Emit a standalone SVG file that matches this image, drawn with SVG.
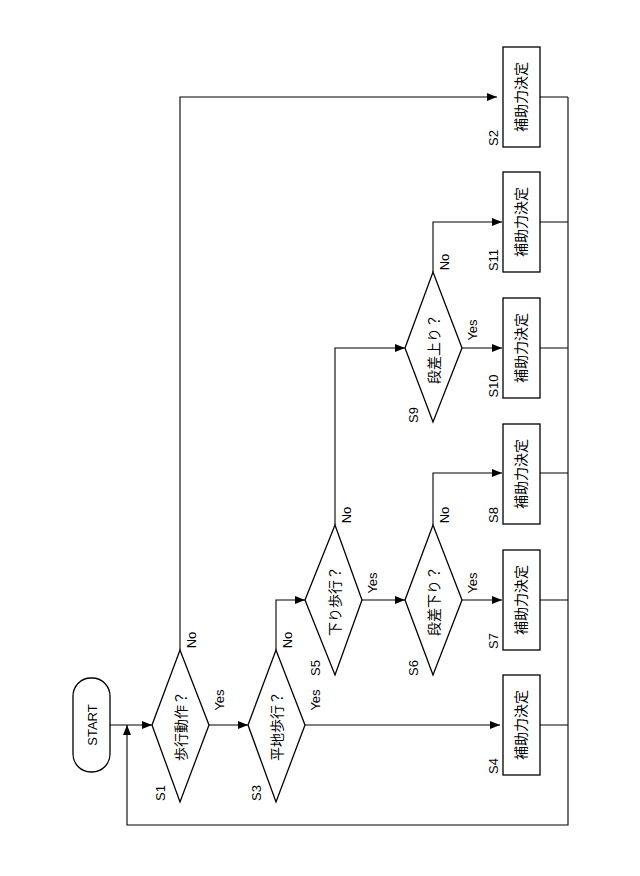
<svg xmlns="http://www.w3.org/2000/svg" width="640" height="876" viewBox="0 0 640 876">
<style>
.s{fill:#fff;stroke:#000;stroke-width:1.3}
.l{fill:none;stroke:#000;stroke-width:1.1}
text{font-family:"Liberation Sans","Noto Sans CJK JP",sans-serif;font-size:13px;text-anchor:middle;dominant-baseline:central}
.j{font-size:14px}
</style>
<defs><marker id="a" markerWidth="10" markerHeight="8" refX="10" refY="4" orient="auto" markerUnits="userSpaceOnUse"><path d="M0,0L10,4L0,8z"/></marker></defs>
<rect width="640" height="876" fill="#fff"/>
<g id="connectors" class="l">
<path d="M110,725H152" marker-end="url(#a)"/>
<path d="M209,725H248" marker-end="url(#a)"/>
<path d="M180,650V97H497" marker-end="url(#a)"/>
<path d="M305,725H500" marker-end="url(#a)"/>
<path d="M276,650V600H305" marker-end="url(#a)"/>
<path d="M362,600H405" marker-end="url(#a)"/>
<path d="M462,600H502" marker-end="url(#a)"/>
<path d="M433,525V473H502" marker-end="url(#a)"/>
<path d="M335,525V348H405" marker-end="url(#a)"/>
<path d="M462,348H502" marker-end="url(#a)"/>
<path d="M433,272V222H502" marker-end="url(#a)"/>
<path d="M540,97H568M540,222H568M540,348H568M540,473H568M540,600H568M540,725H568"/>
<path d="M568,97V825H127V725" marker-end="url(#a)"/>
</g>
<g id="start"><rect class="s" x="73" y="678" width="37" height="94" rx="18"/><text transform="translate(92,725) rotate(-90)" font-size="14">START</text></g>
<g id="S1"><path class="s" d="M152,725L180,650L209,725L180,802z"/><text class="j" transform="translate(181,726) rotate(-90)">歩行動作？</text><text transform="translate(160,793) rotate(-90)">S1</text><text transform="translate(219,700) rotate(-90)">Yes</text><text transform="translate(191,640) rotate(-90)">No</text></g>
<g id="S3"><path class="s" d="M248,725L276,650L305,725L276,802z"/><text class="j" transform="translate(277,726) rotate(-90)">平地歩行？</text><text transform="translate(256,793) rotate(-90)">S3</text><text transform="translate(315,700) rotate(-90)">Yes</text><text transform="translate(287,640) rotate(-90)">No</text></g>
<g id="S5"><path class="s" d="M305,600L335,525L362,600L335,675z"/><text class="j" transform="translate(335,601) rotate(-90)">下り歩行？</text><text transform="translate(315,668) rotate(-90)">S5</text><text transform="translate(372,583) rotate(-90)">Yes</text><text transform="translate(346,515) rotate(-90)">No</text></g>
<g id="S6"><path class="s" d="M405,600L433,525L462,600L433,675z"/><text class="j" transform="translate(434,601) rotate(-90)">段差下り？</text><text transform="translate(413,668) rotate(-90)">S6</text><text transform="translate(472,583) rotate(-90)">Yes</text><text transform="translate(444,515) rotate(-90)">No</text></g>
<g id="S9"><path class="s" d="M405,348L433,272L462,348L433,422z"/><text class="j" transform="translate(434,349) rotate(-90)">段差上り？</text><text transform="translate(413,415) rotate(-90)">S9</text><text transform="translate(472,330) rotate(-90)">Yes</text><text transform="translate(444,262) rotate(-90)">No</text></g>
<g id="S2"><rect class="s" x="503" y="47" width="37" height="100"/><text class="j" transform="translate(521,97) rotate(-90)">補助力決定</text><text transform="translate(493,138) rotate(-90)">S2</text></g>
<g id="S11"><rect class="s" x="503" y="172" width="37" height="100"/><text class="j" transform="translate(521,222) rotate(-90)">補助力決定</text><text transform="translate(493,260) rotate(-90)">S11</text></g>
<g id="S10"><rect class="s" x="503" y="298" width="37" height="100"/><text class="j" transform="translate(521,348) rotate(-90)">補助力決定</text><text transform="translate(493,386) rotate(-90)">S10</text></g>
<g id="S8"><rect class="s" x="503" y="424" width="37" height="100"/><text class="j" transform="translate(521,474) rotate(-90)">補助力決定</text><text transform="translate(493,515) rotate(-90)">S8</text></g>
<g id="S7"><rect class="s" x="503" y="550" width="37" height="100"/><text class="j" transform="translate(521,600) rotate(-90)">補助力決定</text><text transform="translate(493,641) rotate(-90)">S7</text></g>
<g id="S4"><rect class="s" x="503" y="675" width="37" height="100"/><text class="j" transform="translate(521,725) rotate(-90)">補助力決定</text><text transform="translate(493,766) rotate(-90)">S4</text></g>
</svg>
